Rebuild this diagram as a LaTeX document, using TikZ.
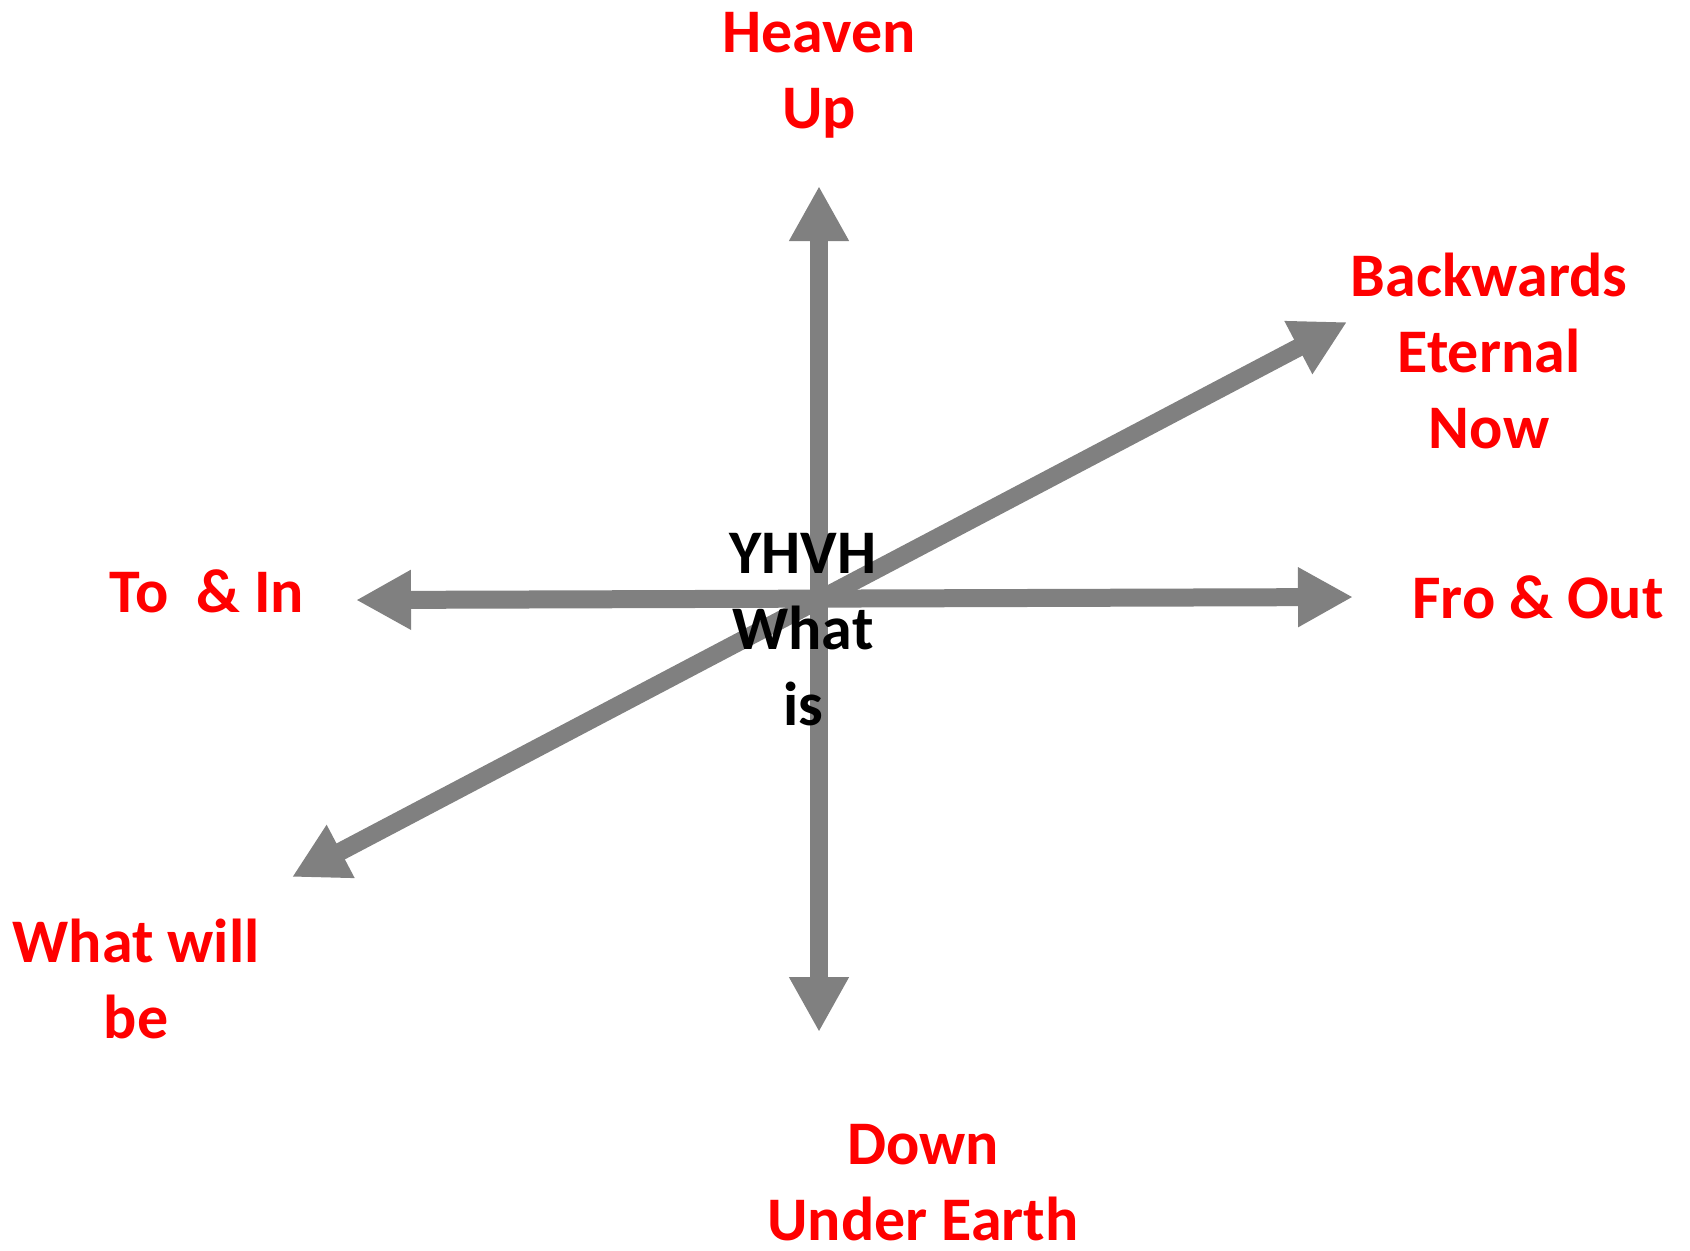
\documentclass[tikz,border=0pt]{standalone}
\usepackage{fontspec}
\setmainfont{Carlito}
\usetikzlibrary{arrows.meta}

\begin{document}
\begin{tikzpicture}[x=0.5pt,y=-0.5pt,
  axis/.style={draw=gray, line width=9pt,
    {Triangle[length=27.5pt,width=28pt]}-{Triangle[length=27.5pt,width=28pt]}},
  label/.style={text=red, align=center, anchor=base, inner sep=0pt,
    font=\bfseries\fontsize{31}{38}\selectfont},
  centre/.style={label, text=black}]
\useasboundingbox (0,0) rectangle (1690,1250);

% Define centre of the axes
\def\centerX{819}
\def\centerY{597}

% Arrow ends
\coordinate (up) at (\centerX,186);
\coordinate (down) at (\centerX,1032);
\coordinate (in) at (356,600);
\coordinate (out) at (1353,597);
\coordinate (will) at (292,877);
\coordinate (now) at (1347,322);

% Axes
\draw[axis] (down) -- (up);
\draw[axis] (in) -- (out);
\draw[axis] (will) -- (now);

% Centre text (base = last line)
\node[centre] (yhvh) at (803,725) {YHVH\\What\\is};

% Direction labels
\node[label] (heaven) at (\centerX,128) {Heaven\\Up};
\node[label] (backwards) at (1489,448) {Backwards\\Eternal\\Now};
\node[label] (fro) at (1538,618) {Fro \& Out};
\node[label] (to) at (207,612) {To~~\& In};
\node[label] (whatwill) at (136,1038) {What will\\be};
\node[label] (under) at (923,1240) {Down\\Under Earth};

\end{tikzpicture}
\end{document}
